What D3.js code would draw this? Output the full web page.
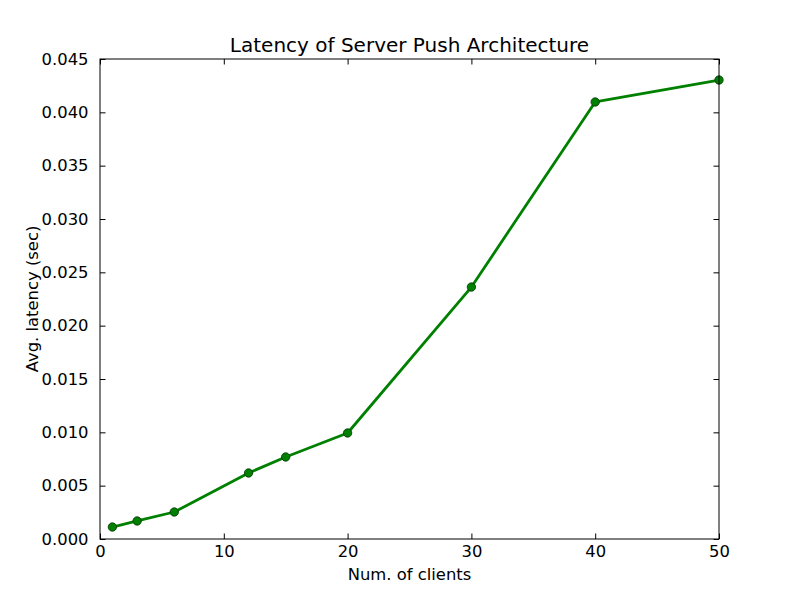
<!DOCTYPE html>
<html>
<head>
<meta charset="utf-8">
<script src="https://cdn.jsdelivr.net/npm/d3@7"></script>
<style>
  body { margin: 0; background: #fff; }
  svg text { font-family: "DejaVu Sans", sans-serif; }
</style>
</head>
<body>
<div id="chart"></div>
<script>
// data
const clients = [1, 3, 6, 12, 15, 20, 30, 40, 50];
const latency = [0.00112, 0.00169, 0.00253, 0.00619, 0.00769, 0.00994, 0.02362, 0.04097, 0.04303];
const xTicks = [0, 10, 20, 30, 40, 50];
const yTicks = [0, 0.005, 0.010, 0.015, 0.020, 0.025, 0.030, 0.035, 0.040, 0.045];

const width = 800, height = 600;
const margin = { top: 59, right: 81, bottom: 61, left: 100 };
const innerW = width - margin.left - margin.right;
const innerH = height - margin.top - margin.bottom;

const svg = d3.select("#chart").append("svg")
  .attr("width", width)
  .attr("height", height);

const chart = svg.append("g")
  .attr("transform", `translate(${margin.left},${margin.top})`);

const x = d3.scaleLinear().domain([0, 50]).range([0, innerW]);
const y = d3.scaleLinear().domain([0, 0.045]).range([innerH, 0]);

const fontSize = "16.4px";
const tick = 5.5;

// axes, matplotlib classic: ticks pointing inward on all sides
function styleAxis(g) {
  g.select(".domain").remove();
  g.selectAll("line").attr("stroke", "#000").attr("stroke-width", 1);
  g.selectAll("text").style("font-size", fontSize).attr("fill", "#000");
}

chart.append("g")
  .attr("transform", `translate(0,${innerH})`)
  .call(d3.axisBottom(x).tickValues(xTicks).tickSize(-tick).tickPadding(6.5).tickFormat(d3.format("d")))
  .call(styleAxis);

chart.append("g")
  .call(d3.axisTop(x).tickValues(xTicks).tickSize(-tick).tickFormat(""))
  .call(styleAxis);

chart.append("g")
  .call(d3.axisLeft(y).tickValues(yTicks).tickSize(-tick).tickPadding(tick + 6).tickFormat(d3.format(".3f")))
  .call(styleAxis);

chart.append("g")
  .attr("transform", `translate(${innerW},0)`)
  .call(d3.axisRight(y).tickValues(yTicks).tickSize(-tick).tickFormat(""))
  .call(styleAxis);

// line
const line = d3.line()
  .x((d, i) => x(clients[i]))
  .y(d => y(d));

chart.append("path")
  .datum(latency)
  .attr("fill", "none")
  .attr("stroke", "#008000")
  .attr("stroke-width", 2.8)
  .attr("stroke-linejoin", "round")
  .attr("d", line);

// markers
chart.selectAll("circle.pt")
  .data(latency)
  .enter()
  .append("circle")
  .attr("class", "pt")
  .attr("cx", (d, i) => x(clients[i]))
  .attr("cy", d => y(d))
  .attr("r", 4.2)
  .attr("fill", "#008000")
  .attr("stroke", "#003300")
  .attr("stroke-width", 0.8);

// frame
chart.append("rect")
  .attr("width", innerW)
  .attr("height", innerH)
  .attr("fill", "none")
  .attr("stroke", "#000")
  .attr("stroke-width", 1);

// labels
svg.append("text")
  .attr("x", margin.left + innerW / 2)
  .attr("y", margin.top - 7)
  .attr("text-anchor", "middle")
  .style("font-size", "20px")
  .text("Latency of Server Push Architecture");

svg.append("text")
  .attr("x", margin.left + innerW / 2)
  .attr("y", 580)
  .attr("text-anchor", "middle")
  .style("font-size", fontSize)
  .text("Num. of clients");

svg.append("text")
  .attr("transform", `translate(38,${margin.top + innerH / 2}) rotate(-90)`)
  .attr("text-anchor", "middle")
  .style("font-size", fontSize)
  .text("Avg. latency (sec)");
</script>
</body>
</html>
